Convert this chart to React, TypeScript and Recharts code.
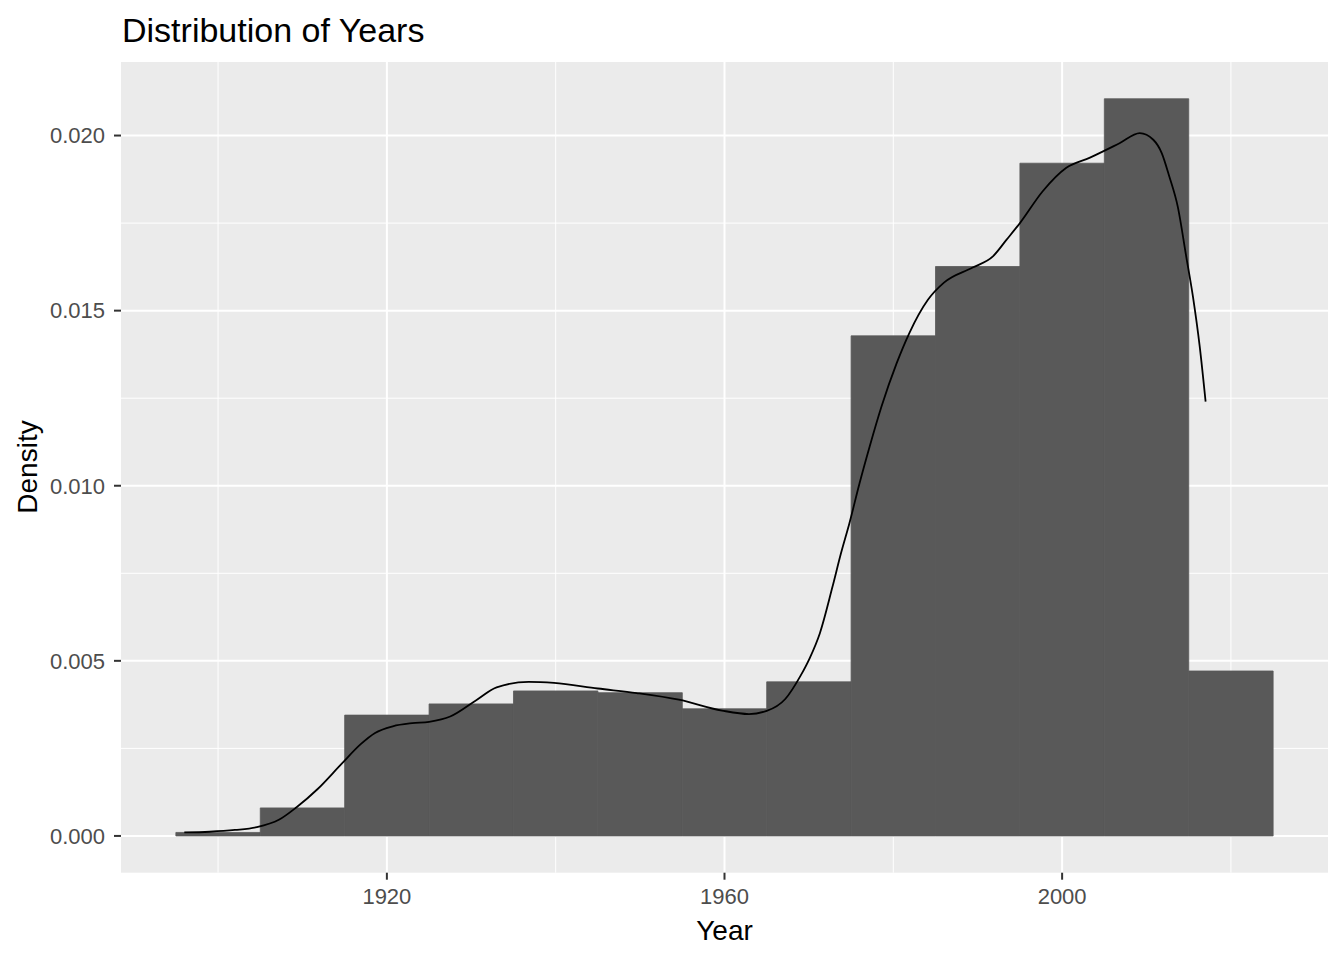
import { ComposedChart, XAxis, YAxis, CartesianGrid, ReferenceArea, Line } from "recharts";

// histogram bins (10-year width), left edge and density height
const binStart = [1895, 1905, 1915, 1925, 1935, 1945, 1955, 1965, 1975, 1985, 1995, 2005, 2015];
const binDensity = [
  0.0001, 0.0008, 0.00345, 0.00377, 0.00414, 0.00409, 0.00363, 0.0044, 0.01428, 0.01626, 0.01921,
  0.02105, 0.00471,
];
const BIN_WIDTH = 10;

// kernel density curve
const densityYears = [
  1896, 1899, 1902, 1904.6, 1907.2, 1909.3, 1911.8, 1914.6, 1916.9, 1918.6, 1920.7, 1923, 1925, 1927.5,
  1930.5, 1933, 1936.8, 1939.8, 1945, 1949.6, 1954.6, 1959.7, 1962.9, 1965, 1967.2, 1969, 1970.1, 1971.3,
  1972.8, 1973.8, 1974.8, 1976, 1977.2, 1978.6, 1980.4, 1981.9, 1984.1, 1986, 1989.4, 1991.8, 1993.4,
  1995, 1997.7, 2000.5, 2003.3, 2006.8, 2009.2, 2010.8, 2011.8, 2012.7, 2013.7, 2014.7, 2015.5, 2016.3,
  2017,
];
const densityValues = [
  0.0001, 0.00012, 0.00017, 0.00025, 0.00046, 0.00082, 0.00134, 0.00205, 0.00262, 0.00294, 0.00313,
  0.00322, 0.00326, 0.00341, 0.00386, 0.00424, 0.0044, 0.00437, 0.00421, 0.00408, 0.00389, 0.00358,
  0.00348, 0.00357, 0.00391, 0.00457, 0.00508, 0.00579, 0.00712, 0.00807, 0.00893, 0.01007, 0.01112,
  0.01226, 0.0135, 0.01436, 0.01531, 0.0158, 0.01623, 0.01655, 0.01702, 0.0175, 0.01841, 0.01908,
  0.01937, 0.01978, 0.02007, 0.01988, 0.0195, 0.01883, 0.01797, 0.01655, 0.0154, 0.01398, 0.0124,
];

const xMajor = [1920, 1960, 2000];
const xMinor = [1900, 1940, 1980, 2020];
const yMajor = [0, 0.005, 0.01, 0.015, 0.02];
const yMinor = [0.0025, 0.0075, 0.0125, 0.0175];

const densityData = densityYears.map((year, i) => ({ year, density: densityValues[i] }));

const FONT = '"Liberation Sans", Arial, sans-serif';

export default function App() {
  return (
    <div style={{ position: "absolute", left: 0, top: 0, width: 1344, height: 960, fontFamily: FONT }}>
      <ComposedChart width={1344} height={960} margin={{ top: 62, right: 16, bottom: 0, left: 0 }}>
        <CartesianGrid
          fill="#EBEBEB"
          stroke="#FFFFFF"
          strokeWidth={1}
          horizontalValues={yMinor}
          verticalValues={xMinor}
        />
        <CartesianGrid
          fill="none"
          stroke="#FFFFFF"
          strokeWidth={2}
          horizontalValues={yMajor}
          verticalValues={xMajor}
        />
        <XAxis
          type="number"
          dataKey="year"
          domain={[1888.5, 2031.5]}
          ticks={xMajor}
          allowDataOverflow
          height={87.3}
          axisLine={false}
          tickSize={7}
          tickMargin={9}
          tickLine={{ stroke: "#333333", strokeWidth: 2 }}
          tick={{ fill: "#4D4D4D", fontSize: 22, fontFamily: FONT }}
        />
        <YAxis
          type="number"
          domain={[-0.00105, 0.0221]}
          ticks={yMajor}
          allowDataOverflow
          width={121}
          axisLine={false}
          tickSize={7}
          tickMargin={9}
          tickLine={{ stroke: "#333333", strokeWidth: 2 }}
          tick={{ fill: "#4D4D4D", fontSize: 22, fontFamily: FONT }}
          tickFormatter={(v: number) => v.toFixed(3)}
        />
        {binStart.map((x, i) => (
          <ReferenceArea
            key={x}
            x1={x}
            x2={x + BIN_WIDTH}
            y1={0}
            y2={binDensity[i]}
            fill="#595959"
            fillOpacity={1}
            stroke="#595959"
            strokeWidth={0.8}
          />
        ))}
        <Line
          data={densityData}
          dataKey="density"
          type="monotone"
          stroke="#000000"
          strokeWidth={1.8}
          dot={false}
          activeDot={false}
          isAnimationActive={false}
        />
      </ComposedChart>
      <svg
        width={1344}
        height={960}
        style={{ position: "absolute", left: 0, top: 0, pointerEvents: "none" }}
        fontFamily={FONT}
      >
        <text x={122} y={41.6} fontSize={34} fill="#000000">
          Distribution of Years
        </text>
        <text x={724.5} y={940} fontSize={28} fill="#000000" textAnchor="middle">
          Year
        </text>
        <text transform="translate(36.7,467) rotate(-90)" fontSize={28} fill="#000000" textAnchor="middle">
          Density
        </text>
      </svg>
    </div>
  );
}
